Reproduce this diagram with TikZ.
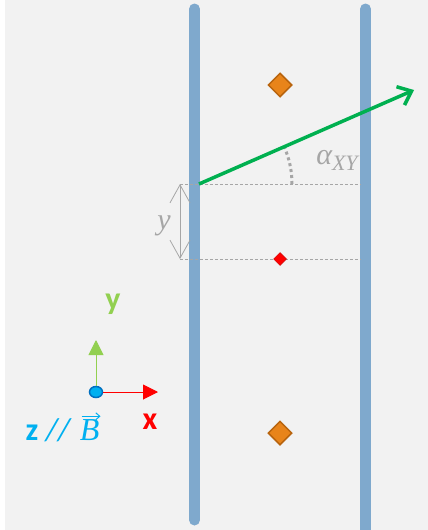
\documentclass[tikz,border=0pt]{standalone}
\usepackage{fontspec}
\newfontfamily\labelfont{Carlito}
\newfontfamily\symbfont{Liberation Serif}
\usetikzlibrary{arrows.meta,shapes.geometric,calc,positioning}

\definecolor{bggray}{HTML}{F2F2F2}
\definecolor{wallblue}{HTML}{7FA9CD}
\definecolor{beamgreen}{HTML}{00B050}
\definecolor{axisgreen}{HTML}{92D050}
\definecolor{axisred}{HTML}{FF0000}
\definecolor{fieldblue}{HTML}{00B0F0}
\definecolor{dotblue}{HTML}{0070C0}
\definecolor{ionorange}{HTML}{E8841A}
\definecolor{ionbrown}{HTML}{B8640E}
\definecolor{markgray}{HTML}{A6A6A6}

\begin{document}
\begin{tikzpicture}[x=1pt,y=-1pt]

  \tikzstyle{wall}=[line width=11pt,draw=wallblue,line cap=round]
  \tikzstyle{beam}=[line width=3.5pt,draw=beamgreen,-{Straight Barb[length=12pt,width=20pt,line width=3.5pt]}]
  \tikzstyle{guide}=[dashed,draw=markgray,line width=0.7pt,dash pattern=on 3pt off 2pt]
  \tikzstyle{dim}=[draw=markgray,line width=0.8pt,{Straight Barb[length=18pt,width=20pt]}-{Straight Barb[length=18pt,width=20pt]}]
  \tikzstyle{ion}=[diamond,draw=ionbrown,fill=ionorange,line width=1.5pt,inner sep=0pt,minimum size=24pt]
  \tikzstyle{probe}=[diamond,draw=red!80!black,fill=red,line width=0.5pt,inner sep=0pt,minimum size=13pt]
  \tikzstyle{axis}=[line width=1pt,-{Triangle[length=15pt,width=15pt]}]
  \tikzstyle{symb}=[text=markgray,font=\symbfont\itshape\fontsize{30}{32}\selectfont]
  \tikzstyle{axlabel}=[font=\labelfont\bfseries\fontsize{32}{34}\selectfont]

  % ====================
  % Parameters
  % ====================
  \def\wallL{194.5} % left wall
  \def\wallR{365.5} % right wall
  \def\ytop{184}    % start of the beam
  \def\ybot{259}    % level of the probe
  \def\dimx{180}    % x of the y-arrow
  % ====================

  \useasboundingbox (0,0) rectangle (428,530);
  \fill[bggray] (5,0) rectangle (428,530);

  % ====================
  % Walls
  % ====================
  \draw[wall] (\wallL,9) -- (\wallL,520);
  \draw[wall] (\wallR,9) -- (\wallR,535);

  % ====================
  % Ions
  % ====================
  \node (upper) [ion] at (280,85) {};
  \node (lower) [ion] at (280,433) {};

  % Guides
  \coordinate (topL) at (\dimx,\ytop);
  \coordinate (topR) at (\wallR-5,\ytop);
  \coordinate (botL) at (\dimx,\ybot);
  \coordinate (botR) at (\wallR-5,\ybot);
  \draw[guide] (topL) -- (topR);
  \draw[guide] (botL) -- (botR);

  \node (probe) [probe] at (280,\ybot) {};

  % Height
  \draw[dim] (topL) -- (botL);
  \node (height) [symb] at (164,226) {y};

  % ====================
  % Beam
  % ====================
  \coordinate (start) at (199,\ytop);
  \coordinate (tip) at (414,90);
  \draw[markgray,line width=3pt,dash pattern=on 3pt off 3pt] ($(start)+(93,0)$) arc[start angle=0,end angle=-23.6,radius=93];
  \draw[beam] (start) -- (tip);
  \node (angle) at (337,160) [symb] {α\raisebox{-6pt}{\fontsize{22}{24}\selectfont XY}};

  % ====================
  % Axes
  % ====================
  \node (origin) [ellipse,draw=dotblue,fill=fieldblue,line width=1.5pt,minimum width=13pt,minimum height=11pt,inner sep=0pt] at (96,392) {};
  \coordinate (yend) at (96,340);
  \coordinate (xend) at (158,392);
  \draw[axis,axisgreen] (origin) -- (yend);
  \draw[axis,axisred] (origin) -- (xend);
  \node (ylab) at (113,304) [axlabel,text=axisgreen] {y};
  \node (xlab) at (150,422) [axlabel,text=axisred] {x};
  \node (zlab) at (48,430) [axlabel,text=fieldblue,inner sep=0pt] {z \mdseries\itshape //};
  \node (bvec) [right=9pt of zlab,text=fieldblue,font=\symbfont\itshape\fontsize{32}{34}\selectfont,inner sep=0pt] {B};
  \draw[fieldblue,line width=1pt,-{Straight Barb[length=4pt,width=7pt]}] ($(bvec.north west)+(2,-3)$) -- ($(bvec.north east)+(1,-3)$);

\end{tikzpicture}
\end{document}
